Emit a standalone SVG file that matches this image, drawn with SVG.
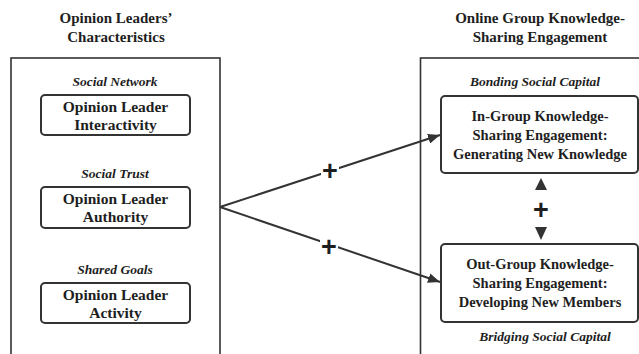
<svg xmlns="http://www.w3.org/2000/svg" width="639" height="354" viewBox="0 0 639 354">
<defs>
<style>
.t{font-family:"Liberation Serif","Times New Roman",serif;font-weight:bold;fill:#1e1e1e;text-anchor:middle}
.title{font-size:15px}
.box{font-size:15.5px}
.rbox{font-size:14.5px}
.lab{font-size:13.5px;font-style:italic}
.outer{fill:none;stroke:#333;stroke-width:1.6}
.inner{fill:#fff;stroke:#333;stroke-width:2}
.conn{stroke:#333;stroke-width:2;fill:none}
.plus{font-family:"Liberation Sans",Arial,sans-serif;font-weight:bold;font-size:27px;fill:#1e1e1e;text-anchor:middle}
</style>
<marker id="ah" viewBox="0 0 12 10" refX="12" refY="5" markerWidth="12" markerHeight="10" markerUnits="userSpaceOnUse" orient="auto">
<path d="M0,0 L12,5 L0,10 Z" fill="#333"/>
</marker>
</defs>
<rect width="639" height="354" fill="#fff"/>

<g id="left-group">
<text class="t title" x="116" y="23">Opinion Leaders’</text>
<text class="t title" x="116" y="42">Characteristics</text>
<rect class="outer" x="11" y="58" width="209" height="310"/>
</g>

<g id="right-group">
<text class="t title" x="540" y="23">Online Group Knowledge-</text>
<text class="t title" x="540" y="42">Sharing Engagement</text>
<rect class="outer" x="420.5" y="58" width="230" height="310"/>
</g>

<g id="interactivity">
<text class="t lab" x="115" y="86">Social Network</text>
<rect class="inner" x="41" y="95" width="149" height="40" rx="4"/>
<text class="t box" x="115.5" y="112">Opinion Leader</text>
<text class="t box" x="115.5" y="130">Interactivity</text>
</g>

<g id="authority">
<text class="t lab" x="115" y="178">Social Trust</text>
<rect class="inner" x="41" y="187" width="149" height="41" rx="4"/>
<text class="t box" x="115.5" y="204">Opinion Leader</text>
<text class="t box" x="115.5" y="222">Authority</text>
</g>

<g id="activity">
<text class="t lab" x="115" y="274">Shared Goals</text>
<rect class="inner" x="41" y="283" width="149" height="40" rx="4"/>
<text class="t box" x="115.5" y="300">Opinion Leader</text>
<text class="t box" x="115.5" y="318">Activity</text>
</g>

<g id="ingroup">
<text class="t lab" x="535" y="86">Bonding Social Capital</text>
<rect class="inner" x="441" y="96" width="197" height="77" rx="4"/>
<text class="t rbox" x="540" y="121">In-Group Knowledge-</text>
<text class="t rbox" x="540" y="140">Sharing Engagement:</text>
<text class="t rbox" x="540" y="159">Generating New Knowledge</text>
</g>

<g id="outgroup">
<rect class="inner" x="441" y="244" width="197" height="78" rx="4"/>
<text class="t rbox" x="540" y="269">Out-Group Knowledge-</text>
<text class="t rbox" x="540" y="288">Sharing Engagement:</text>
<text class="t rbox" x="540" y="307">Developing New Members</text>
<text class="t lab" x="545" y="341">Bridging Social Capital</text>
</g>

<g id="connectors">
<line class="conn" x1="220" y1="207" x2="440" y2="135" marker-end="url(#ah)"/>
<line class="conn" x1="220" y1="207" x2="440" y2="282" marker-end="url(#ah)"/>
<rect x="321" y="162" width="18" height="18" fill="#fff"/>
<rect x="320" y="238" width="18" height="18" fill="#fff"/>
<text class="plus" x="330" y="180">+</text>
<text class="plus" x="329" y="256">+</text>
<path d="M541,178 L547,190 L535,190 Z" fill="#333"/>
<path d="M535,227 L547,227 L541,240 Z" fill="#333"/>
<text class="plus" x="541" y="219">+</text>
</g>
</svg>
